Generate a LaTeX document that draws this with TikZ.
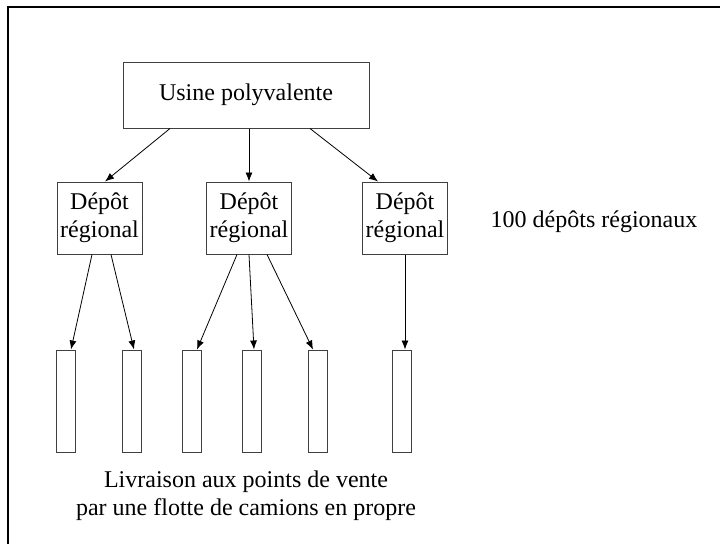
\documentclass[tikz,border=0pt]{standalone}
\usepackage{fontspec}
\setmainfont{Liberation Serif}
\usetikzlibrary{arrows.meta}
\begin{document}
\begin{tikzpicture}[x=1pt,y=-1pt]
       \tikzstyle{every node}=[font=\fontsize{24}{28}\selectfont]
       \tikzstyle{usinenode}=[draw=black!75, line width=1pt, minimum width=246pt, minimum height=66pt]
       \tikzstyle{depotnode}=[draw=black!75, line width=1pt, minimum width=85pt, minimum height=72pt, inner sep=2pt, align=center]
       \tikzstyle{pointnode}=[draw=black!75, line width=1pt, minimum width=19pt, minimum height=102pt, inner sep=0pt]
       \tikzstyle{flow}=[draw, line width=0.8pt, -{Latex[length=9pt,width=7pt]}]
       \useasboundingbox (0,0) rectangle (720,544);
       \draw[line width=2.5pt] (8,544) -- (8,7) -- (720,7);
       % usine et depots
       \node[usinenode] (usine) at (246,95) {Usine polyvalente};
       \node[depotnode] (d1) at (99.5,218) {Dépôt\\régional};
       \node[depotnode] (d2) at (249,218) {Dépôt\\régional};
       \node[depotnode] (d3) at (405,218) {Dépôt\\régional};
       \node (nb) at (594,222) {100 dépôts régionaux};
       % points de vente
       \node[pointnode] (p1) at (65.5,401) {};
       \node[pointnode] (p2) at (131.5,401) {};
       \node[pointnode] (p3) at (191.5,401) {};
       \node[pointnode] (p4) at (251.5,401) {};
       \node[pointnode] (p5) at (317.5,401) {};
       \node[pointnode] (p6) at (401.5,401) {};
       \node[align=center] (livr) at (246,496) {Livraison aux points de vente\\par une flotte de camions en propre};
       % fleches
       \path[flow] ([xshift=-76pt]usine.south) -- ([xshift=5.5pt]d1.north);
       \path[flow] ([xshift=3pt]usine.south) -- (d2.north);
       \path[flow] ([xshift=64pt]usine.south) -- ([xshift=-27pt]d3.north);
       \path[flow] ([xshift=-7.5pt]d1.south) -- ([xshift=5.5pt]p1.north);
       \path[flow] ([xshift=11.5pt]d1.south) -- ([xshift=2.5pt]p2.north);
       \path[flow] ([xshift=-12pt]d2.south) -- ([xshift=5.5pt]p3.north);
       \path[flow] (d2.south) -- ([xshift=2.5pt]p4.north);
       \path[flow] ([xshift=18pt]d2.south) -- ([xshift=-4.5pt]p5.north);
       \path[flow] (d3.south) -- ([xshift=3.5pt]p6.north);
\end{tikzpicture}
\end{document}
